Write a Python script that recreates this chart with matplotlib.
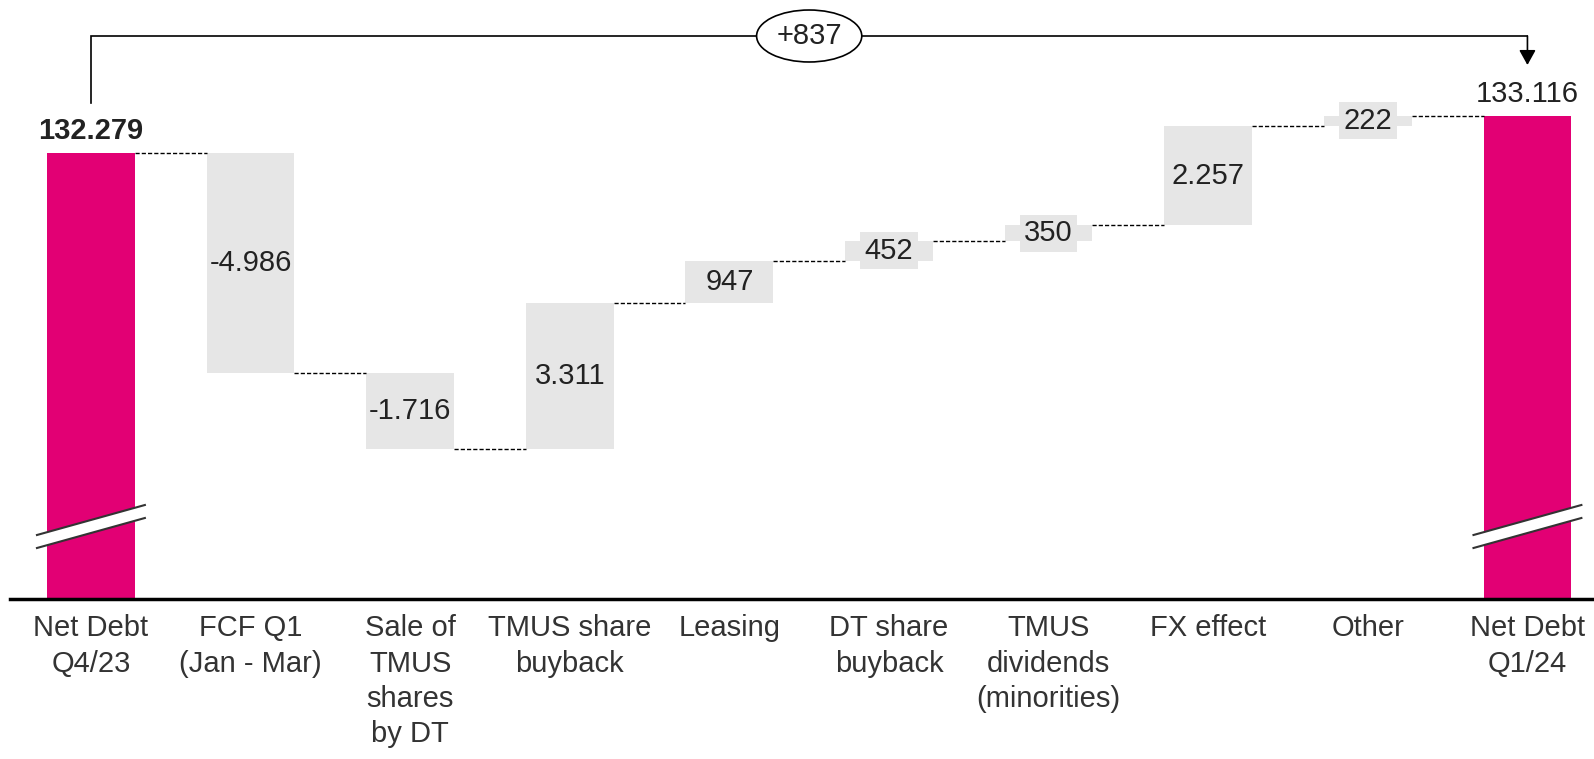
import matplotlib
matplotlib.use("Agg")
import matplotlib.pyplot as plt
from matplotlib.patches import Polygon

plt.rcParams['font.family'] = ['Liberation Sans Narrow', 'Liberation Sans', 'DejaVu Sans']

categories = ["Net Debt\nQ4/23", "FCF Q1\n(Jan - Mar)", "Sale of\nTMUS\nshares\nby DT",
              "TMUS share\nbuyback", "Leasing", "DT share\nbuyback",
              "TMUS\ndividends\n(minorities)", "FX effect", "Other", "Net Debt\nQ1/24"]
start_value = 132279
deltas = [-4986, -1716, 3311, 947, 452, 350, 2257, 222]
end_value = 133116
total_change = "+837"

MAGENTA = "#E20074"
GRAY = "#E6E6E6"
TXT = "#222222"
FS = 21

def fmt(v, sign=False):
    s = f"{abs(v):,}".replace(",", ".")
    if v < 0:
        s = "-" + s
    elif sign:
        s = "+" + s
    return s

fig = plt.figure(figsize=(15.94, 7.59), dpi=100)
ax = fig.add_axes([10/1594, 160/759, 1584/1594, 599/759])
ymin, ymax = 122180, 135740
ax.set_xlim(-0.507, 9.417)
ax.set_ylim(ymin, ymax)
W = 0.55

# start and end bars
n = len(categories)
ax.bar(0, start_value - ymin, bottom=ymin, width=W, color=MAGENTA, zorder=2)
ax.bar(n - 1, end_value - ymin, bottom=ymin, width=W, color=MAGENTA, zorder=2)

# floating bars
level = start_value
levels = [start_value]
for i, d in enumerate(deltas, start=1):
    lo = min(level, level + d)
    ax.bar(i, abs(d), bottom=lo, width=W, color=GRAY, zorder=2)
    box = dict(boxstyle='square,pad=0.15', fc=GRAY, ec='none') if abs(d) < 800 else None
    ax.text(i, lo + abs(d) / 2, fmt(d), ha='center', va='center', fontsize=FS,
            color=TXT, zorder=4, bbox=box)
    level += d
    levels.append(level)

# connectors
for i in range(n - 1):
    ax.plot([i + W / 2, i + 1 - W / 2], [levels[i], levels[i]], color='black',
            lw=1, ls=(0, (3, 1.5)), zorder=3)

# totals labels
ax.annotate(fmt(start_value), (0, start_value), xytext=(0, 10), textcoords='offset points',
            ha='center', va='baseline', fontsize=FS, fontweight='bold', color=TXT)
ax.annotate(fmt(end_value), (n - 1, end_value), xytext=(0, 10), textcoords='offset points',
            ha='center', va='baseline', fontsize=FS, color=TXT)

# axis break marks
upp = (ymax - ymin) / 599.0
for xc in (0, n - 1):
    x0, x1 = xc - 0.338, xc + 0.338
    yl_up, yr_up = ymax - 535 * upp, ymax - 505 * upp
    yl_lo, yr_lo = ymax - 548 * upp, ymax - 518 * upp
    ax.add_patch(Polygon([[x0, yl_up], [x1, yr_up], [x1, yr_lo], [x0, yl_lo]],
                         closed=True, fc='white', ec='none', zorder=5, clip_on=False))
    ax.plot([x0, x1], [yl_up, yr_up], color='#333333', lw=1.5, zorder=6)
    ax.plot([x0, x1], [yl_lo, yr_lo], color='#333333', lw=1.5, zorder=6)

# top bracket
y_br = ymax - 36 * upp
y_lo = ymax - 103 * upp
y_tip = ymax - 65 * upp
ax.plot([0, 0, n - 1], [y_lo, y_br, y_br], color='black', lw=1.2, zorder=3,
        solid_joinstyle='miter')
ax.annotate('', xy=(n - 1, y_tip), xytext=(n - 1, y_br),
            arrowprops=dict(arrowstyle='-|>,head_length=0.9,head_width=0.5',
                            mutation_scale=10,
                            color='black', lw=1.2, shrinkA=0, shrinkB=0))
ax.text((n - 1) / 2, y_br, total_change, ha='center', va='center', fontsize=FS,
        color=TXT, zorder=5,
        bbox=dict(boxstyle='ellipse,pad=0.15', fc='white', ec='black', lw=1.2))

# axes styling
for s in ('top', 'right', 'left'):
    ax.spines[s].set_visible(False)
ax.spines['bottom'].set_linewidth(2.5)
ax.spines['bottom'].set_color('black')
ax.set_yticks([])
ax.set_xticks(range(n))
ax.set_xticklabels(categories, fontsize=FS, color='#333333', linespacing=1.33)
ax.tick_params(axis='x', length=0, pad=11)

fig.savefig("out.png", dpi=100)
